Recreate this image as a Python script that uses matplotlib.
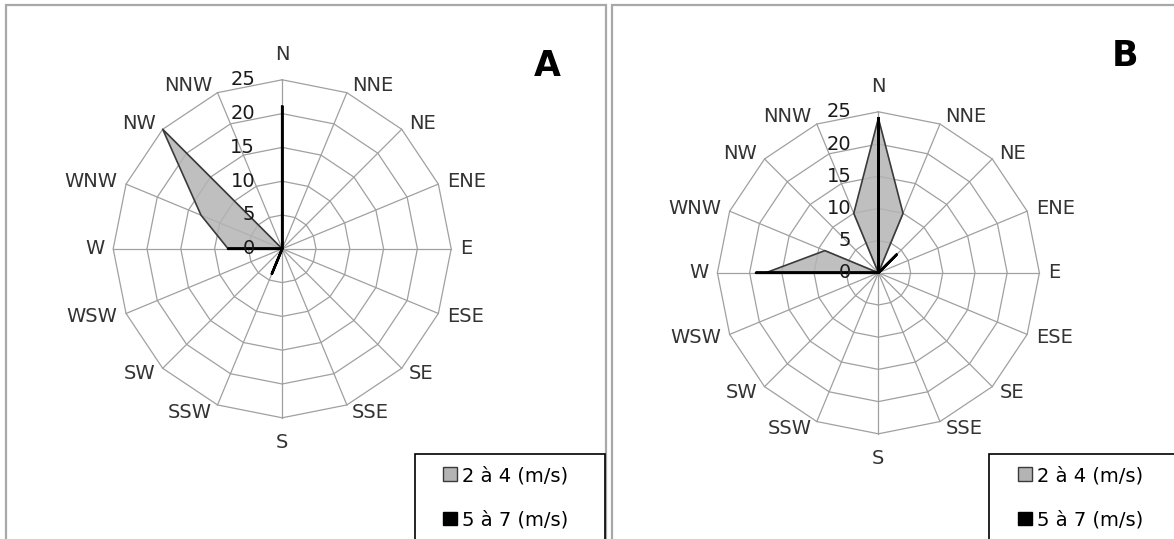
import numpy as np
import matplotlib.pyplot as plt
from matplotlib.patches import Rectangle, Patch

# directions, clockwise from north
directions = ["N", "NNE", "NE", "ENE", "E", "ESE", "SE", "SSE",
              "S", "SSW", "SW", "WSW", "W", "WNW", "NW", "NNW"]
ring_ticks = [0, 5, 10, 15, 20, 25]
series_labels = ["2 à 4 (m/s)", "5 à 7 (m/s)"]

# panel A (frequencies, %)
a_2_4 = [0, 0, 0, 0, 0, 0, 0, 0, 0, 0, 0, 0, 8, 13, 25, 0]
a_5_7 = [21, 0, 0, 0, 0, 0, 0, 0, 0, 4, 0, 0, 8, 0, 0, 0]
# panel B
b_2_4 = [24, 10, 0, 0, 0, 0, 0, 0, 0, 0, 0, 0, 17.5, 9, 0, 10]
b_5_7 = [24, 0, 4, 0, 0, 0, 0, 0, 0, 0, 0, 0, 19, 0, 0, 0]

W, H = 1174, 539
plt.rcParams['font.family'] = ['DejaVu Sans']
fig = plt.figure(figsize=(W / 100, H / 100), dpi=100)

theta = np.deg2rad(np.arange(len(directions)) * 360 / len(directions))
GRID = '#a0a0a0'
FS = 14


def closed(v):
    v = np.asarray(v, float)
    x, y = v * np.sin(theta), v * np.cos(theta)
    return np.append(x, x[0]), np.append(y, y[0])


def radar(cx, cy, rad, s1, s2):
    # cx, cy, rad : centre and outer radius in pixels (top-left origin)
    L = 30.0
    h = rad / ring_ticks[-1] * L
    ax = fig.add_axes([(cx - h) / W, (H - cy - h) / H, 2 * h / W, 2 * h / H])
    ax.set_xlim(-L, L)
    ax.set_ylim(-L, L)
    ax.axis('off')
    rmax = ring_ticks[-1]

    for r in ring_ticks[1:]:
        ax.plot(*closed([r] * len(directions)), color=GRID, lw=0.9, zorder=1)
    for t in theta:
        ax.plot([0, rmax * np.sin(t)], [0, rmax * np.cos(t)], color=GRID, lw=0.9, zorder=1)

    x, y = closed(s1)
    ax.fill(x, y, color='#b4b4b4', alpha=0.85, lw=0, zorder=2)
    ax.plot(x, y, color='#3a3a3a', lw=1.2, zorder=3)
    x, y = closed(s2)
    ax.fill(x, y, color='black', lw=0, zorder=4)
    ax.plot(x, y, color='black', lw=1.8, zorder=4)

    for r in ring_ticks:
        ax.annotate(str(r), (0, r), xytext=(-27, 0), textcoords='offset pixels',
                    ha='right', va='center', fontsize=FS, color='#1a1a1a', zorder=5)

    for lab, t in zip(directions, theta):
        s, c = np.sin(t), np.cos(t)
        pt = (rmax * s, rmax * c)
        if abs(s) < 1e-6:
            ax.annotate(lab, pt, xytext=(0, 25 * np.sign(c)), textcoords='offset pixels',
                        ha='center', va='center', fontsize=FS, color='#333333')
        else:
            ax.annotate(lab, pt, xytext=(np.sign(s) * (3 + 6 * abs(s)), 8 * c),
                        textcoords='offset pixels', ha='left' if s > 0 else 'right',
                        va='center', fontsize=FS, color='#333333')
    return ax


radar(282.2, 248.8, 169, a_2_4, a_5_7)
radar(878.4, 272.8, 161, b_2_4, b_5_7)

# panel frames (bottom runs past the image)
for x0, x1 in [(6, 606), (612, 1200)]:
    fig.add_artist(Rectangle((x0 / W, -0.1), (x1 - x0) / W, (H - 5) / H + 0.1,
                             transform=fig.transFigure, fill=False, ec='#a8a8a8', lw=1.6))

fig.text(547 / W, 1 - 66 / H, 'A', fontsize=25, fontweight='bold', ha='center', va='center')
fig.text(1125 / W, 1 - 56 / H, 'B', fontsize=25, fontweight='bold', ha='center', va='center')

# legends
handles = [Patch(fc='#b4b4b4', ec='#3a3a3a'), Patch(fc='black', ec='black')]
for x0, x1, hx in [(415, 605, 443), (989, 1200, 1018)]:
    fig.add_artist(Rectangle((x0 / W, -0.1), (x1 - x0) / W, (H - 454) / H + 0.1,
                             transform=fig.transFigure, fill=False, ec='black', lw=1.2))
    fig.legend(handles, series_labels, loc='upper left', bbox_to_anchor=(hx / W, 1 - 466 / H),
               frameon=False, fontsize=FS, handlelength=0.7, handleheight=0.7,
               handletextpad=0.3, labelspacing=1.3, borderpad=0, borderaxespad=0)

fig.savefig('out.png', dpi=100)
